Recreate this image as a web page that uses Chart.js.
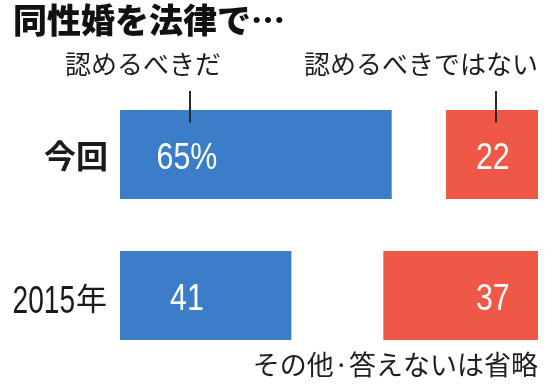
<!DOCTYPE html>
<html><head><meta charset="utf-8">
<script src="https://cdn.jsdelivr.net/npm/chart.js@4/dist/chart.umd.min.js"></script>
<style>html,body{margin:0;padding:0;background:#fff}canvas{display:block}</style>
</head><body>
<canvas id="c" width="550" height="390"></canvas>
<script>
const titleText = '同性婚を法律で…';
const categories = ['今回', '2015年'];
const approve = [65, 41];          // 認めるべきだ
const otherNoAnswer = [13, 22];    // その他・答えない（省略）
const oppose = [22, 37];           // 認めるべきではない
const seriesNames = ['認めるべきだ', 'その他・答えない', '認めるべきではない'];
const footnote = 'その他·答えないは省略';

const BLUE = '#3b7dc9', RED = '#ef5746';
const JP = "'Noto Sans CJK JP', 'Noto Sans', sans-serif";

function narrowFont(ctx, size) {
  ctx.font = size + "px 'Liberation Sans Narrow', monospace";
  const a = ctx.measureText('0123456789').width;
  ctx.font = size + "px monospace";
  const b = ctx.measureText('0123456789').width;
  if (Math.abs(a - b) > 0.5) { ctx.font = size + "px 'Liberation Sans Narrow'"; return 1; }
  ctx.font = size + "px 'Liberation Sans', Arial, sans-serif";
  return 0.82;
}
function drawNarrow(ctx, text, x0, by, size, align, extra) {
  const sx = narrowFont(ctx, size) * (extra || 1);
  ctx.save();
  ctx.translate(x0, by);
  ctx.scale(sx, 1);
  ctx.textAlign = align || 'center';
  ctx.textBaseline = 'alphabetic';
  ctx.fillText(text, 0, 0);
  ctx.restore();
  return ctx;
}

const annot = {
  id: 'annot',
  afterDatasetsDraw(chart) {
    const { ctx, chartArea, scales: { x, y } } = chart;
    ctx.save();
    // category labels
    ctx.fillStyle = '#1a1a1a';
    const rightEdge = chartArea.left - 13;
    chart.data.labels.forEach((lab, i) => {
      const cy = y.getPixelForValue(i);
      const m = lab.match(/^(\d+)(.*)$/);
      if (m) {
        ctx.font = '31px ' + JP;
        ctx.textAlign = 'right';
        ctx.textBaseline = 'middle';
        ctx.fillText(m[2], rightEdge, cy + 3);
        const w = ctx.measureText(m[2]).width;
        drawNarrow(ctx, m[1], rightEdge - w - 1, cy + 17, 38, 'right', 0.9);
      } else {
        ctx.font = 'bold 32px ' + JP;
        ctx.textAlign = 'right';
        ctx.textBaseline = 'middle';
        ctx.fillText(lab, rightEdge + 1, cy + 1);
      }
    });
    // value labels
    ctx.fillStyle = '#ffffff';
    const labelPos = { 0: 16, 2: 89.2 };
    [0, 2].forEach(di => {
      chart.data.datasets[di].data.forEach((v, i) => {
        const t = v + (i === 0 && di === 0 ? '%' : '');
        drawNarrow(ctx, t, x.getPixelForValue(labelPos[di]), y.getPixelForValue(i) + 14, 37, 'center');
      });
    });
    // leader lines
    ctx.strokeStyle = '#2a2a2a';
    ctx.lineWidth = 2;
    const top0 = chartArea.top + 7;
    const barTop = y.getPixelForValue(0) - 32;
    [16.75, 90].forEach(v => {
      const px = Math.round(x.getPixelForValue(v));
      ctx.beginPath();
      ctx.moveTo(px, top0);
      ctx.lineTo(px, barTop);
      ctx.stroke();
    });
    // series names
    ctx.fillStyle = '#1e1e1e';
    ctx.font = '26px ' + JP;
    ctx.textBaseline = 'middle';
    ctx.textAlign = 'center';
    ctx.fillText(chart.data.datasets[0].label, x.getPixelForValue(5.5), chartArea.top - 20);
    ctx.textAlign = 'right';
    ctx.fillText(chart.data.datasets[2].label, chartArea.right, chartArea.top - 20);
    // footnote
    ctx.font = '27px ' + JP;
    ctx.fillText(footnote, chartArea.right, chartArea.bottom - 1);
    ctx.restore();
  }
};

new Chart(document.getElementById('c'), {
  type: 'bar',
  data: {
    labels: categories,
    datasets: [
      { label: seriesNames[0], data: approve, backgroundColor: BLUE },
      { label: seriesNames[1], data: otherNoAnswer, backgroundColor: 'rgba(0,0,0,0)' },
      { label: seriesNames[2], data: oppose, backgroundColor: RED }
    ]
  },
  options: {
    indexAxis: 'y',
    responsive: false,
    animation: false,
    devicePixelRatio: 1,
    datasets: { bar: { categoryPercentage: 1, barPercentage: 0.63, borderWidth: 0 } },
    layout: { padding: { left: 13, right: 12, top: 0, bottom: 24 } },
    scales: {
      x: { stacked: true, min: 0, max: 100, display: false },
      y: {
        stacked: true,
        grid: { display: false },
        border: { display: false },
        ticks: { display: false },
        afterFit: s => { s.width = 107; }
      }
    },
    plugins: {
      legend: { display: false },
      tooltip: { enabled: false },
      title: {
        display: true,
        text: titleText,
        align: 'start',
        color: '#111',
        font: { family: JP, size: 34, weight: 900, lineHeight: 1.2 },
        padding: { top: 0, bottom: 43.2 }
      }
    }
  },
  plugins: [annot]
});
</script>
</body></html>
